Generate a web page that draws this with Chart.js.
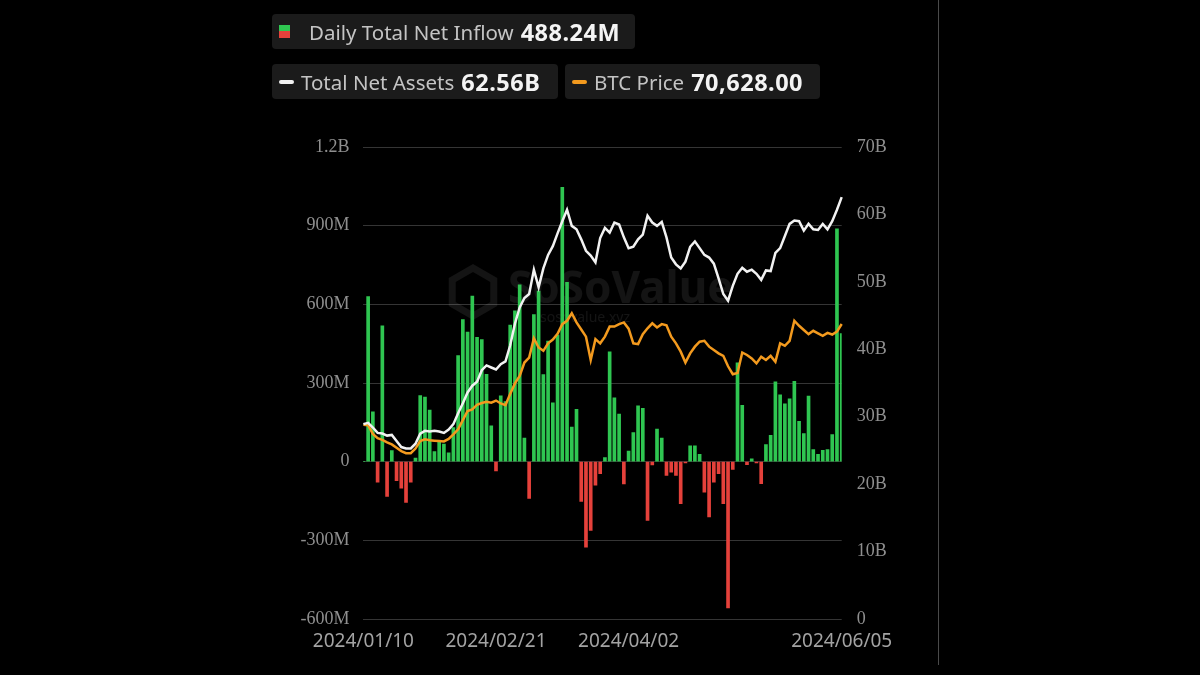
<!DOCTYPE html>
<html>
<head>
<meta charset="utf-8">
<script src="https://cdn.jsdelivr.net/npm/chart.js@4.4.1/dist/chart.umd.min.js"></script>
<style>
  html, body { margin: 0; padding: 0; background: #000; }
  #wrap { position: relative; width: 1200px; height: 675px; overflow: hidden; background: #000; }
  #myChart { position: absolute; left: 0; top: 0; }
  .pill {
    position: absolute; height: 35px; background: #1b1b1b; border-radius: 4px;
    font-family: 'Noto Sans', sans-serif; display: flex; align-items: center;
    white-space: nowrap; box-sizing: border-box;
  }
  .pill .lab { color: #c4c4c4; font-size: 20.5px; }
  .pill b { color: #f4f4f4; font-size: 23.5px; font-weight: 700; margin-left: 7px; letter-spacing: 0.5px; }
  .sq { width: 11px; height: 13px; margin: 0 19px 0 7px;
    background: linear-gradient(#2fc651 50%, #e5413b 50%); }
  .dash { width: 15px; height: 4px; border-radius: 2px; margin: 0 7px 0 7px; }
  #sep { position: absolute; left: 938px; top: 0; width: 1px; height: 665px; background: #4a4a4a; }
</style>
</head>
<body>
<div id="wrap">
  <canvas id="myChart" width="1200" height="675"></canvas>
  <div class="pill" style="left:272px;top:14px;width:363px">
    <span class="sq"></span><span class="lab">Daily Total Net Inflow</span><b id="vFlow"></b>
  </div>
  <div class="pill" style="left:272px;top:64px;width:286px">
    <span class="dash" style="background:#f2f2f2"></span><span class="lab">Total Net Assets</span><b id="vAssets"></b>
  </div>
  <div class="pill" style="left:565px;top:64px;width:255px">
    <span class="dash" style="background:#f39a1e"></span><span class="lab">BTC Price</span><b id="vPrice"></b>
  </div>
  <div id="sep"></div>
</div>
<script>
/* DATA */

const dates = [
  '2024/01/10', '2024/01/11', '2024/01/12', '2024/01/16', '2024/01/17', '2024/01/18', '2024/01/19',
  '2024/01/22', '2024/01/23', '2024/01/24', '2024/01/25', '2024/01/26', '2024/01/29', '2024/01/30', '2024/01/31',
  '2024/02/01', '2024/02/02', '2024/02/05', '2024/02/06', '2024/02/07', '2024/02/08', '2024/02/09',
  '2024/02/12', '2024/02/13', '2024/02/14', '2024/02/15', '2024/02/16', '2024/02/20', '2024/02/21',
  '2024/02/22', '2024/02/23', '2024/02/26', '2024/02/27', '2024/02/28', '2024/02/29',
  '2024/03/01', '2024/03/04', '2024/03/05', '2024/03/06', '2024/03/07', '2024/03/08', '2024/03/11',
  '2024/03/12', '2024/03/13', '2024/03/14', '2024/03/15', '2024/03/18', '2024/03/19', '2024/03/20',
  '2024/03/21', '2024/03/22', '2024/03/25', '2024/03/26', '2024/03/27', '2024/03/28',
  '2024/04/01', '2024/04/02', '2024/04/03', '2024/04/04', '2024/04/05', '2024/04/08', '2024/04/09',
  '2024/04/10', '2024/04/11', '2024/04/12', '2024/04/15', '2024/04/16', '2024/04/17', '2024/04/18',
  '2024/04/19', '2024/04/22', '2024/04/23', '2024/04/24', '2024/04/25', '2024/04/26', '2024/04/29', '2024/04/30',
  '2024/05/01', '2024/05/02', '2024/05/03', '2024/05/06', '2024/05/07', '2024/05/08', '2024/05/09',
  '2024/05/10', '2024/05/13', '2024/05/14', '2024/05/15', '2024/05/16', '2024/05/17', '2024/05/20',
  '2024/05/21', '2024/05/22', '2024/05/23', '2024/05/24', '2024/05/28', '2024/05/29', '2024/05/30', '2024/05/31',
  '2024/06/03', '2024/06/04', '2024/06/05'
]

// daily total net inflow, millions USD
const netInflow = [
  0, 630, 190, -78, 518, -133, 42, -72, -101, -155, -78, 14, 252, 246, 197,
  38, 80, 67, 34, 130, 405, 542, 494, 631, 474, 466, 333, 137, -35,
  251, 229, 521, 575, 674, 90,
  -140, 561, 651, 332, 460, 224, 483, 1046, 684, 132, 200, -152, -326, -262, -90, -46, 16, 419, 243, 181,
  -85, 40, 111, 213, 203, -224, -12, 124, 90, -52, -40, -52, -160, -5, 60, 60, 28, -116, -211, -78, -46, -160,
  -558, -30, 377, 215, -11, 11, -5, -84, 65, 100, 304, 255, 221, 240, 306, 154, 107, 250, 46, 28, 43, 46,
  103, 888, 488.24
]

// total net assets, billions USD
const totalNetAssets = [
  28.9, 29.1, 28.4, 27.6, 27.5, 27.2, 27.3, 26.4, 25.5, 25.3, 25.3, 26.0, 27.5, 27.9, 27.8,
  27.9, 27.8, 27.6, 28.1, 28.9, 30.5, 32.0, 33.6, 34.6, 35.2, 36.9, 37.6, 37.3, 37.0,
  37.8, 38.2, 40.6, 43.8, 46.2, 47.6,
  48.2, 51.8, 49.2, 52.0, 54.0, 55.3, 57.2, 59.0, 60.7, 58.3, 57.8, 56.3, 54.6, 53.9, 52.9, 56.5, 58.0, 57.3, 58.8, 58.5,
  56.6, 55.0, 55.2, 56.3, 57.0, 59.8, 58.8, 58.3, 58.9, 56.6, 53.6, 52.6, 52.0, 53.0, 55.2, 56.0, 55.0, 54.0, 53.6, 52.7, 50.5, 48.2,
  47.2, 49.4, 51.2, 52.1, 51.5, 51.8, 51.2, 50.3, 51.7, 51.6, 54.3, 55.0, 56.8, 58.6, 59.1, 59.0, 57.6, 58.6, 57.8, 57.7, 58.6, 57.8,
  59.0, 60.7, 62.56
]

// BTC price, thousands USD
const btcPrice = [
  46.5, 46.4, 44.3, 43.3, 42.9, 42.3, 41.8, 41.0, 40.2, 39.7, 39.7, 40.8, 42.6, 43.0, 42.8,
  42.7, 42.6, 42.5, 43.1, 44.2, 45.4, 47.6, 49.8, 50.2, 51.3, 51.7, 52.0, 51.8, 52.3,
  51.6, 51.2, 53.9, 56.4, 58.2, 61.4,
  62.6, 67.2, 65.0, 64.2, 66.0, 66.9, 68.3, 70.6, 71.4, 73.2, 71.0, 69.3, 67.6, 62.0, 67.0, 66.0, 67.6, 70.0, 70.0, 70.6,
  71.0, 69.5, 66.0, 65.8, 68.2, 69.6, 70.8, 69.8, 70.6, 70.3, 67.6, 66.0, 64.0, 61.4, 63.6, 65.2, 66.4, 66.6, 65.2, 64.4, 63.6, 63.0,
  60.5, 58.6, 58.9, 63.8, 63.2, 62.4, 61.2, 62.8, 62.0, 63.0, 61.6, 66.0, 65.4, 66.6, 71.4, 70.2, 69.2, 68.2, 69.0, 68.4, 67.8, 68.5,
  68.1, 68.8, 70.628
]

const xTickDates = ['2024/01/10', '2024/02/21', '2024/04/02', '2024/06/05']

/* LEGEND VALUES */

document.getElementById('vFlow').textContent = netInflow[netInflow.length - 1].toFixed(2) + 'M'
document.getElementById('vAssets').textContent = totalNetAssets[totalNetAssets.length - 1].toFixed(2) + 'B'
document.getElementById('vPrice').textContent = (btcPrice[btcPrice.length - 1] * 1000).toLocaleString('en-US', { minimumFractionDigits: 2 })

/* CHART */

const green = '#2fc651', red = '#e5413b'
const axisFont = { family: "'Liberation Serif', serif", size: 18 }

function fmtFlow(v) {
  if (v === 0) return '0'
  if (Math.abs(v) >= 1000) return (v / 1000) + 'B'
  return v + 'M'
}

const watermark = {
  id: 'watermark',
  beforeDatasetsDraw(chart) {
    const c = chart.ctx
    c.save()
    c.strokeStyle = 'rgba(255,255,255,0.08)'
    c.lineWidth = 7
    c.beginPath()
    for (let k = 0; k < 6; k++) {
      const a = Math.PI / 6 + k * Math.PI / 3
      const px = 473 + 24 * Math.cos(a), py = 292 + 24 * Math.sin(a)
      k ? c.lineTo(px, py) : c.moveTo(px, py)
    }
    c.closePath()
    c.stroke()
    c.fillStyle = 'rgba(255,255,255,0.08)'
    c.font = "bold 44px 'Noto Sans'"
    c.textBaseline = 'middle'
    c.fillText('SoSoValue', 508, 290)
    c.font = "14px 'Noto Sans'"
    c.fillText('sosovalue.xyz', 540, 318)
    c.restore()
  }
}

const ctx = document.getElementById('myChart').getContext('2d')
const myChart = new Chart(ctx, {
  type: 'bar',
  data: {
    labels: dates,
    datasets: [
      {
        type: 'line',
        label: 'Total Net Assets',
        data: totalNetAssets,
        yAxisID: 'yAssets',
        borderColor: '#f2f2f2',
        borderWidth: 2.5,
        pointRadius: 0,
        tension: 0,
        order: 1
      },
      {
        type: 'line',
        label: 'BTC Price',
        data: btcPrice,
        yAxisID: 'yPrice',
        borderColor: '#f39a1e',
        borderWidth: 2.5,
        pointRadius: 0,
        tension: 0,
        order: 2
      },
      {
        type: 'bar',
        label: 'Daily Total Net Inflow',
        data: netInflow,
        yAxisID: 'yFlow',
        backgroundColor: netInflow.map(v => v >= 0 ? green : red),
        barThickness: 3,
        order: 3
      }
    ]
  },
  options: {
    responsive: false,
    animation: false,
    layout: { padding: { left: 290, right: 298.3, top: 147, bottom: 26 } },
    plugins: {
      legend: { display: false },
      tooltip: { enabled: false }
    },
    scales: {
      x: {
        offset: false,
        grid: { display: false },
        border: { display: false },
        ticks: {
          autoSkip: false,
          maxRotation: 0,
          color: '#a3a3a3',
          font: { family: "'Noto Sans', sans-serif", size: 19 },
          padding: 3,
          callback: (v, i) => xTickDates.includes(dates[i]) ? dates[i] : ''
        },
        afterFit: s => { s.height = 30 }
      },
      yFlow: {
        position: 'left',
        min: -600,
        max: 1200,
        border: { display: false },
        grid: { color: '#353535', lineWidth: 1, drawTicks: false },
        ticks: { stepSize: 300, color: '#8f8f8f', font: axisFont, padding: 14, callback: fmtFlow },
        afterFit: s => { s.width = 73.4 }
      },
      yAssets: {
        position: 'right',
        min: 0,
        max: 70,
        border: { display: false },
        grid: { display: false, drawTicks: false },
        ticks: { stepSize: 10, color: '#8f8f8f', font: axisFont, padding: 15, callback: v => v === 0 ? '0' : v + 'B' },
        afterFit: s => { s.width = 60 }
      },
      yPrice: { display: false, min: 0, max: 113 }
    }
  },
  plugins: [watermark]
})
</script>
</body>
</html>
